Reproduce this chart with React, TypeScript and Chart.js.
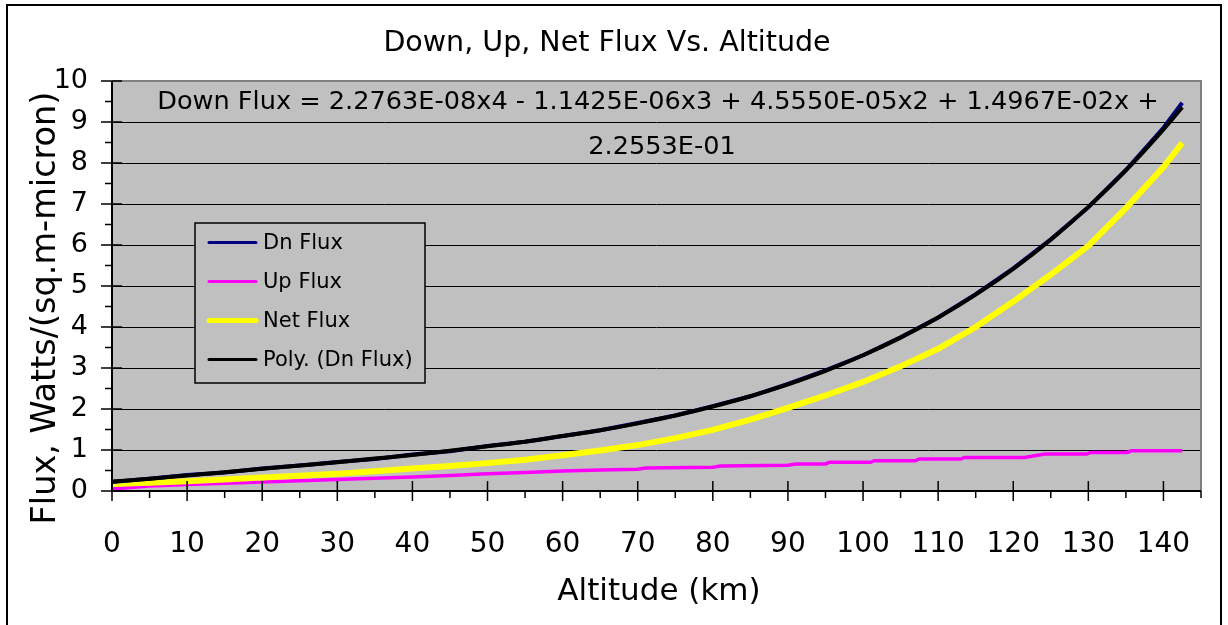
import React, { useEffect, useRef } from "react";
import { Chart, registerables } from "chart.js";

Chart.register(...registerables);

// ---- data ----
const ALTITUDE = [0, 5, 10, 15, 20, 25, 30, 35, 40, 45, 50, 55, 60, 65, 70, 75, 80, 85, 90, 95, 100, 105, 110, 115, 120, 125, 130, 135, 140, 142.5];
const DN_FLUX = [0.22, 0.3, 0.39, 0.45, 0.55, 0.62, 0.71, 0.78, 0.89, 0.97, 1.1, 1.2, 1.34, 1.48, 1.66, 1.84, 2.07, 2.31, 2.61, 2.94, 3.31, 3.75, 4.23, 4.8, 5.43, 6.14, 6.92, 7.83, 8.86, 9.47];
const NET_FLUX = [0.17, 0.2, 0.24, 0.28, 0.33, 0.37, 0.42, 0.48, 0.55, 0.61, 0.68, 0.76, 0.87, 0.99, 1.12, 1.29, 1.49, 1.74, 2.03, 2.33, 2.66, 3.04, 3.47, 4.0, 4.62, 5.28, 5.98, 6.9, 7.9, 8.49];
const POLY_DN_FLUX = [0.23, 0.3, 0.38, 0.46, 0.54, 0.62, 0.7, 0.79, 0.88, 0.98, 1.09, 1.2, 1.34, 1.48, 1.65, 1.84, 2.06, 2.31, 2.6, 2.93, 3.31, 3.74, 4.23, 4.79, 5.42, 6.13, 6.93, 7.82, 8.82, 9.36];
const UP_ALTITUDE = [0, 2, 5, 10, 15, 20, 25, 30, 35, 40, 45, 50, 55, 60, 65, 70, 71, 80, 81, 90, 91, 95, 95.5, 101, 101.5, 107, 107.5, 113, 113.5, 121.5, 124.2, 129.8, 130.3, 135.2, 135.7, 142.5];
const UP_FLUX = [0.05, 0.08, 0.12, 0.16, 0.19, 0.22, 0.25, 0.28, 0.31, 0.34, 0.38, 0.42, 0.45, 0.49, 0.51, 0.53, 0.56, 0.58, 0.61, 0.63, 0.66, 0.66, 0.7, 0.7, 0.74, 0.74, 0.78, 0.78, 0.82, 0.82, 0.9, 0.9, 0.94, 0.94, 0.98, 0.98];

const X_TICKS = [0, 10, 20, 30, 40, 50, 60, 70, 80, 90, 100, 110, 120, 130, 140];
const X_MINOR_STEP = 5;
const X_MAX = 145;
const Y_TICKS = [0, 1, 2, 3, 4, 5, 6, 7, 8, 9, 10];
const Y_MINOR_STEP = 0.5;

const TITLE = "Down, Up, Net Flux Vs. Altitude";
const EQ_LINE1 = "Down Flux = 2.2763E-08x4 - 1.1425E-06x3 + 4.5550E-05x2 + 1.4967E-02x +";
const EQ_LINE2 = "2.2553E-01";
const X_TITLE = "Altitude (km)";
const Y_TITLE = "Flux, Watts/(sq.m-micron)";
const LEGEND_ORDER = ["Dn Flux", "Up Flux", "Net Flux", "Poly. (Dn Flux)"];

const FONT = "'DejaVu Sans', Verdana, sans-serif";

const decor = {
  id: "decor",
  beforeDraw(chart: any) {
    const { ctx, chartArea: a } = chart;
    ctx.save();
    ctx.fillStyle = "#ffffff";
    ctx.fillRect(0, 0, chart.width, chart.height);
    ctx.fillStyle = "#C0C0C0";
    ctx.fillRect(a.left, a.top, a.right - a.left, a.bottom - a.top);
    ctx.restore();
  },
  afterDraw(chart: any) {
    const { ctx, chartArea: a, scales } = chart;
    const xs = scales.x;
    const ys = scales.y;
    ctx.save();

    // plot border (top, right) gray
    ctx.strokeStyle = "#808080";
    ctx.lineWidth = 2;
    ctx.beginPath();
    ctx.moveTo(a.left, a.top);
    ctx.lineTo(a.right, a.top);
    ctx.lineTo(a.right, a.bottom);
    ctx.stroke();

    // axes lines
    ctx.strokeStyle = "#000";
    ctx.lineWidth = 2;
    ctx.beginPath();
    ctx.moveTo(a.left, a.top);
    ctx.lineTo(a.left, a.bottom);
    ctx.lineTo(a.right, a.bottom);
    ctx.stroke();

    // tick marks
    ctx.lineWidth = 1.5;
    ctx.beginPath();
    for (let v = 0; v <= 10 + 1e-9; v += Y_MINOR_STEP) {
      const py = ys.getPixelForValue(v);
      const major = Math.abs(v - Math.round(v)) < 1e-6;
      if (major) {
        ctx.moveTo(a.left - 11, py);
        ctx.lineTo(a.left + 10, py);
      } else {
        ctx.moveTo(a.left - 7, py);
        ctx.lineTo(a.left, py);
      }
    }
    for (let v = 0; v <= X_MAX + 1e-9; v += X_MINOR_STEP) {
      const px = xs.getPixelForValue(v);
      const major = v % 10 === 0;
      if (major) {
        ctx.moveTo(px, a.bottom - 10);
        ctx.lineTo(px, a.bottom + 10);
      } else {
        ctx.moveTo(px, a.bottom);
        ctx.lineTo(px, a.bottom + 7);
      }
    }
    ctx.stroke();

    // legend
    const lx = 195, ly = 223, lw = 230, lh = 160;
    ctx.fillStyle = "#C0C0C0";
    ctx.fillRect(lx, ly, lw, lh);
    ctx.strokeStyle = "#000";
    ctx.lineWidth = 1.5;
    ctx.strokeRect(lx, ly, lw, lh);
    ctx.font = `21px ${FONT}`;
    ctx.textBaseline = "middle";
    ctx.textAlign = "left";
    LEGEND_ORDER.forEach((label, i) => {
      const ds = chart.data.datasets.find((d: any) => d.label === label);
      const y = 242.5 + i * 39;
      ctx.strokeStyle = ds.borderColor;
      ctx.lineWidth = Math.max(3, ds.borderWidth - 1);
      ctx.lineCap = "round";
      ctx.beginPath();
      ctx.moveTo(209, y);
      ctx.lineTo(256, y);
      ctx.stroke();
      ctx.fillStyle = "#000";
      ctx.fillText(label, 263, y + 1);
    });
    ctx.lineCap = "butt";

    // title
    ctx.fillStyle = "#000";
    ctx.textAlign = "center";
    ctx.textBaseline = "alphabetic";
    ctx.font = `28.5px ${FONT}`;
    ctx.fillText(TITLE, 607, 51);

    // trendline equation
    ctx.font = `25.6px ${FONT}`;
    ctx.fillText(EQ_LINE1, 658, 109);
    ctx.fillText(EQ_LINE2, 662, 154);

    // axis titles
    ctx.font = `31px ${FONT}`;
    ctx.fillText(X_TITLE, 659, 600);
    ctx.save();
    ctx.translate(55, 308);
    ctx.rotate(-Math.PI / 2);
    ctx.font = `33.5px ${FONT}`;
    ctx.fillText(Y_TITLE, 0, 0);
    ctx.restore();

    // outer border
    ctx.strokeStyle = "#000";
    ctx.lineWidth = 2;
    ctx.strokeRect(7, 5, 1214, 700);

    ctx.restore();
  },
};

export default function App() {
  const ref = useRef<HTMLCanvasElement>(null);

  useEffect(() => {
    document.body.style.margin = "0";
    const canvas = ref.current!;
    const toXY = (xs: number[], ys: number[]) => xs.map((x, i) => ({ x, y: ys[i] }));
    const chart = new Chart(canvas, {
      type: "line",
      data: {
        datasets: [
          {
            label: "Poly. (Dn Flux)",
            data: toXY(ALTITUDE, POLY_DN_FLUX),
            borderColor: "#000000",
            borderWidth: 4,
            pointRadius: 0,
            cubicInterpolationMode: "monotone",
            order: 0,
          },
          {
            label: "Dn Flux",
            data: toXY(ALTITUDE, DN_FLUX),
            borderColor: "#000080",
            borderWidth: 4,
            pointRadius: 0,
            tension: 0,
            order: 1,
          },
          {
            label: "Net Flux",
            data: toXY(ALTITUDE, NET_FLUX),
            borderColor: "#FFFF00",
            borderWidth: 6,
            pointRadius: 0,
            tension: 0,
            order: 2,
          },
          {
            label: "Up Flux",
            data: toXY(UP_ALTITUDE, UP_FLUX),
            borderColor: "#FF00FF",
            borderWidth: 3.5,
            pointRadius: 0,
            tension: 0,
            order: 3,
          },
        ],
      },
      options: {
        animation: false,
        responsive: false,
        maintainAspectRatio: false,
        layout: { padding: { left: 0, top: 81, right: 24, bottom: 0 } },
        plugins: {
          legend: { display: false },
          title: { display: false },
          tooltip: { enabled: false },
        },
        scales: {
          x: {
            type: "linear",
            min: 0,
            max: X_MAX,
            afterBuildTicks: (s: any) => {
              s.ticks = X_TICKS.map((v) => ({ value: v }));
            },
            afterFit: (s: any) => {
              s.height = 134;
            },
            grid: { display: false, drawTicks: false },
            border: { display: false },
            ticks: {
              padding: 37,
              maxRotation: 0,
              autoSkip: false,
              color: "#000",
              font: { family: FONT, size: 28 },
            },
          },
          y: {
            type: "linear",
            min: 0,
            max: 10,
            afterBuildTicks: (s: any) => {
              s.ticks = Y_TICKS.map((v) => ({ value: v }));
            },
            afterFit: (s: any) => {
              s.width = 112;
            },
            grid: { color: "#000", lineWidth: 1, drawTicks: false },
            border: { display: false },
            ticks: {
              padding: 24,
              color: "#000",
              font: { family: FONT, size: 27 },
            },
          },
        },
      } as any,
      plugins: [decor],
    });
    return () => chart.destroy();
  }, []);

  return (
    <div style={{ position: "fixed", left: 0, top: 0, width: 1228, height: 625, background: "#fff" }}>
      <canvas ref={ref} width={1228} height={625} style={{ display: "block", width: 1228, height: 625 }} />
    </div>
  );
}
